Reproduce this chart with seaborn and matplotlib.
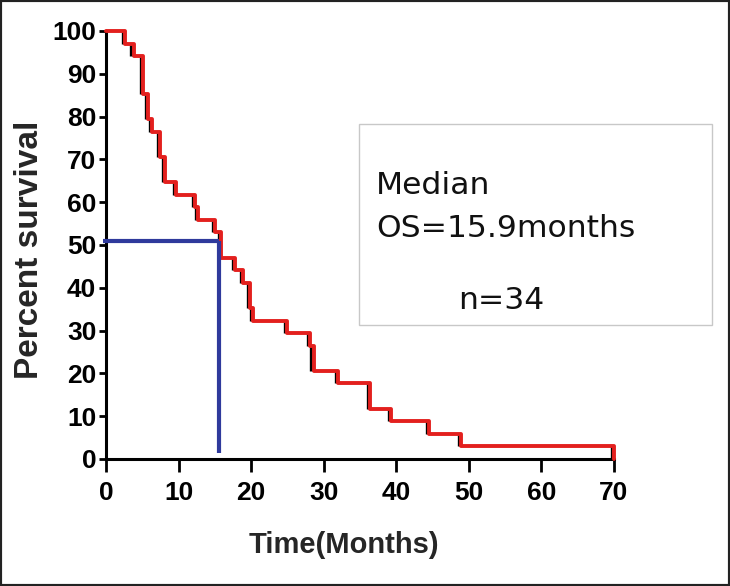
import matplotlib
matplotlib.use("Agg")
import matplotlib.pyplot as plt
from matplotlib import font_manager
from matplotlib.patches import Rectangle
import seaborn as sns
import pandas as pd

# ---- data ----
event_times = [0, 2.6, 3.8, 5.1, 5.8, 6.4, 7.4, 8.1, 9.7, 12.3, 12.7, 15.0, 15.9,
               17.8, 18.9, 19.8, 20.3, 24.9, 28.1, 28.6, 32.0, 36.4, 39.3, 44.5,
               48.9, 70.0]
survival_pct = [100, 97.06, 94.12, 85.29, 79.41, 76.47, 70.59, 64.71, 61.76, 58.82,
                55.88, 52.94, 47.06, 44.12, 41.18, 35.29, 32.35, 29.41, 26.47, 20.59,
                17.65, 11.76, 8.82, 5.88, 2.94, 0.0]
median_time = 15.6
median_pct = 51
median_drop_end = 1.5
x_ticks = [0, 10, 20, 30, 40, 50, 60, 70]
y_ticks = [0, 10, 20, 30, 40, 50, 60, 70, 80, 90, 100]
box_lines = ["Median", "OS=15.9months", "n=34"]

df = pd.DataFrame({"Time": event_times, "Survival": survival_pct})

sns.set_style("ticks")
names = {f.name for f in font_manager.fontManager.ttflist}
narrow = "Liberation Sans Narrow" if "Liberation Sans Narrow" in names else "Liberation Sans"
plt.rcParams["font.family"] = ["DejaVu Sans"]

fig = plt.figure(figsize=(7.3, 5.86), dpi=100)
ax = fig.add_axes([106 / 730, 1 - 459 / 586, 508 / 730, 428 / 586])

# black vertical marks under the red steps
ax.vlines([t - 0.3 for t in event_times[1:]], survival_pct[1:], survival_pct[:-1],
          color="black", lw=2.4, zorder=2, clip_on=False)
sns.lineplot(data=df, x="Time", y="Survival", drawstyle="steps-post", color="#e3201e",
             lw=2.8, ax=ax, zorder=3, clip_on=False)

# median guide lines
ax.plot([-0.4, median_time], [median_pct, median_pct], color="#2f3a9c", lw=3,
        zorder=4, clip_on=False, solid_capstyle="butt")
ax.plot([median_time, median_time], [median_pct, median_drop_end], color="#2f3a9c",
        lw=3, zorder=4, clip_on=False, solid_capstyle="butt")

ax.set_xlim(0, 70)
ax.set_ylim(0, 100)
ax.set_xticks(x_ticks)
ax.set_yticks(y_ticks)
sns.despine(ax=ax)
for s in ["left", "bottom"]:
    ax.spines[s].set_linewidth(2.2)
    ax.spines[s].set_color("black")
ax.tick_params(axis="y", direction="out", length=5, width=2, pad=2, colors="black")
ax.tick_params(axis="x", direction="out", length=9, width=2, pad=7, colors="black")
for lab in ax.get_xticklabels() + ax.get_yticklabels():
    lab.set_fontfamily(narrow)
    lab.set_fontweight("bold")
    lab.set_fontsize(19)

ax.set_xlabel("Time(Months)", fontfamily=narrow, fontweight="bold", fontsize=21)
ax.xaxis.set_label_coords(0.469, -0.22)
ax.xaxis.label.set_va("baseline")
ax.set_ylabel("Percent survival", fontfamily="Liberation Sans", fontweight="bold",
              fontsize=24)
ax.yaxis.set_label_coords(-0.12, 0.488)

# text box
fig.add_artist(Rectangle((359 / 730, 1 - 325 / 586), 353 / 730, 201 / 586,
                         transform=fig.transFigure, fill=False, ec="#c8c8c8", lw=1))
fig.text(376 / 730, 1 - 194 / 586, box_lines[0], fontsize=22.6, va="baseline", color="#111")
fig.text(376 / 730, 1 - 236.7 / 586, box_lines[1], fontsize=22.6, va="baseline", color="#111")
fig.text(458 / 730, 1 - 309 / 586, box_lines[2], fontsize=22.6, va="baseline", color="#111")

# figure border
fig.add_artist(Rectangle((0, 0), 1, 1, transform=fig.transFigure, fill=False,
                         ec="#222", lw=3))

fig.savefig("out.png", dpi=100)
